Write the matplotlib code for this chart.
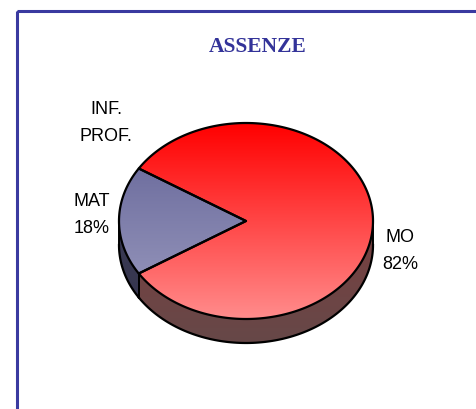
import numpy as np
import matplotlib.pyplot as plt
from matplotlib.patches import Polygon, Rectangle
from matplotlib.colors import to_rgb

# data
labels = ["MO", "MAT", "INF.\nPROF."]
values = [82, 18, 0]
pct_text = ["MO\n82%", "MAT\n18%", "INF.\nPROF."]
top_colors = [("#ff0000", "#ff8c8c"), ("#626296", "#9c9cc0"), ("#ffff99", "#ffffcc")]
side_colors = [("#7a4040", "#664848"), ("#3a3a55", "#34344a"), ("#999966", "#999966")]

W, H = 477, 409
fig = plt.figure(figsize=(W / 100, H / 100), dpi=100)
ax = fig.add_axes([0, 0, 1, 1])

# pie geometry in pixels
cx, cy = 246, 221
a, b = 127, 98
depth = 24


def ell(t, dy=0):
    return np.column_stack([cx + a * np.cos(t), cy - b * np.sin(t) + dy])


def grad_fill(poly_pts, c0, c1, y0, y1):
    patch = Polygon(poly_pts, closed=True, facecolor="none", edgecolor="none",
                    transform=ax.transData)
    ax.add_patch(patch)
    c0, c1 = np.array(to_rgb(c0)), np.array(to_rgb(c1))
    f = np.linspace(0, 1, 200)[:, None]
    img = (c0 * (1 - f) + c1 * f)[:, None, :]
    xa = poly_pts[:, 0].min() - 2
    xb = poly_pts[:, 0].max() + 2
    im = ax.imshow(img, extent=(xa, xb, y1, y0), origin="upper",
                   aspect="auto", interpolation="bilinear")
    im.set_clip_path(patch)


total = sum(values)
start = np.deg2rad(values[0] / total * 180)
bounds = []
t = start
for v in values:
    t_end = t - v / total * 2 * np.pi
    bounds.append((t, t_end))
    t = t_end

# sides (front half only: angles between pi and 2pi)
for (t0, t1), (s0, s1), v in zip(bounds, side_colors, values):
    if v == 0:
        continue
    lo, hi = sorted([t0, t1])
    for k in (-1, 0, 1):
        l2, h2 = lo + 2 * np.pi * k, hi + 2 * np.pi * k
        ls, hs = max(l2, np.pi), min(h2, 2 * np.pi)
        if hs > ls:
            tt = np.linspace(ls, hs, 120)
            pts = np.vstack([ell(tt), ell(tt[::-1], depth)])
            grad_fill(pts, s0, s1, cy, cy + b + depth)
            ax.plot(*ell(tt, depth).T, color="black", lw=1.6, zorder=5)
            for te in (ls, hs):
                p = ell(np.array([te]))[0]
                ax.plot([p[0], p[0]], [p[1], p[1] + depth], color="black",
                        lw=1.4, zorder=5)

# top faces
for (t0, t1), (c0, c1), v in zip(bounds, top_colors, values):
    if v == 0:
        continue
    tt = np.linspace(t0, t1, 300)
    pts = np.vstack([[cx, cy], ell(tt)])
    grad_fill(pts, c0, c1, cy - b, cy + b)
    ax.add_patch(Polygon(pts, closed=True, facecolor="none", edgecolor="black",
                         lw=1.6, zorder=6, joinstyle="round"))

# labels
label_pos = [(400, 251), (92, 215), (106, 123)]
for txt, (x, y) in zip(pct_text, label_pos):
    ax.text(x, y, txt, ha="center", va="center", fontsize=13,
            family="Liberation Sans", linespacing=1.7, color="black")

ax.text(258, 47, "ASSENZE", ha="center", va="center", fontsize=15.5,
        family="Liberation Serif", fontweight="bold", color="#333399")

# frame
ax.add_patch(Rectangle((17.5, 10.5), 480, 420, facecolor="none",
                       edgecolor="#3a3aa0", lw=2.2, zorder=10))

ax.set_xlim(0, W)
ax.set_ylim(H, 0)
ax.axis("off")
fig.savefig("out.png", dpi=100)
